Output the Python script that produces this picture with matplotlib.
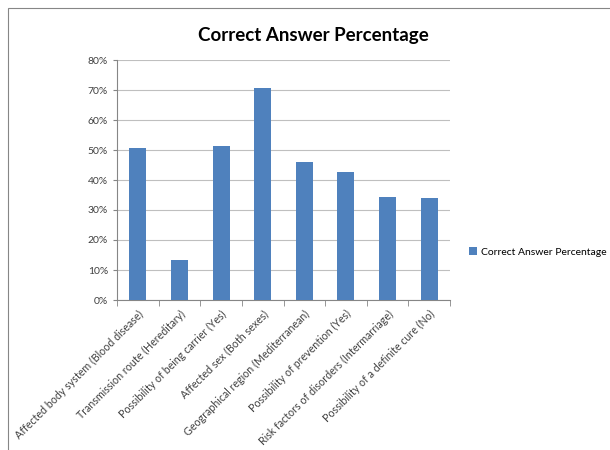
import numpy as np
import matplotlib.pyplot as plt
from matplotlib.ticker import PercentFormatter
from matplotlib.patches import Rectangle

# ---------- data ----------
categories = [
    "Affected body system (Blood disease)",
    "Transmission route (Hereditary)",
    "Possibility of being carrier (Yes)",
    "Affected sex (Both sexes)",
    "Geographical region (Mediterranean)",
    "Possibility of prevention (Yes)",
    "Risk factors of disorders (Intermarriage)",
    "Possibility of a definite cure (No)",
]
values = [50.8, 13.4, 51.2, 70.7, 45.9, 42.8, 34.2, 34.0]
series_name = "Correct Answer Percentage"

plt.rcParams["font.family"] = ["Lato", "DejaVu Sans"]

fig = plt.figure(figsize=(6.1, 4.5), dpi=100)
ax = fig.add_axes([117 / 610, 1 - 300 / 450, (450 - 117) / 610, 240 / 450])

x = np.arange(len(categories))
ax.bar(x, values, width=0.41, color="#4F81BD", label=series_name, zorder=3)

ax.set_ylim(0, 80)
ax.set_xlim(-0.5, len(categories) - 0.5)
ax.set_yticks(np.arange(0, 81, 10))
ax.yaxis.set_major_formatter(PercentFormatter(decimals=0))
ax.grid(axis="y", color="#BFBFBF", linewidth=0.8, zorder=0)

ax.set_xticks(x)
ax.set_xticklabels(categories, rotation=45, ha="right", rotation_mode="anchor",
                   fontsize=7.7, color="#404040")
ax.set_xticks(np.arange(-0.5, len(categories)), minor=True)
ax.tick_params(axis="x", which="major", length=0, pad=6)
ax.tick_params(axis="x", which="minor", length=4, color="#868686")
ax.tick_params(axis="y", length=3, color="#868686", labelsize=7.5, labelcolor="#404040")

for s in ["top", "right"]:
    ax.spines[s].set_visible(False)
for s in ["left", "bottom"]:
    ax.spines[s].set_color("#868686")

fig.text(313 / 610, 1 - 35 / 450, "Correct Answer Percentage", ha="center", va="center",
         fontsize=13.5, fontweight="bold", color="black")

ax.legend(loc="center left", bbox_to_anchor=(460 / 610, 1 - 252 / 450),
          bbox_transform=fig.transFigure, frameon=False, fontsize=7.5,
          handlelength=0.7, handleheight=0.7, handletextpad=0.4)

# outer chart border
fig.patches.append(Rectangle((8 / 610, -0.1), 1.2, 1 - 8 / 450 + 0.1, transform=fig.transFigure,
                             fill=False, edgecolor="#868686", linewidth=0.8, zorder=-1))

fig.savefig("out.png", dpi=100)
